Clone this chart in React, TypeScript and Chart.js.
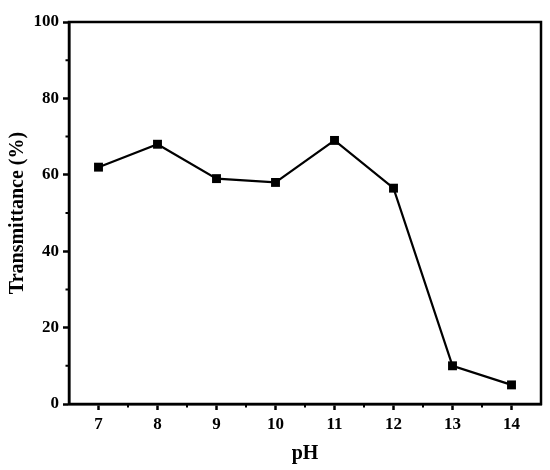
import React, { useEffect, useRef } from "react";
import { Chart, registerables } from "chart.js";

Chart.register(...registerables);

const phValues = [7, 8, 9, 10, 11, 12, 13, 14];
const transmittance = [62, 68, 59, 58, 69, 56.5, 10, 5];
const xMinorTicks = [6.5, 7.5, 8.5, 9.5, 10.5, 11.5, 12.5, 13.5, 14.5];
const yMinorTicks = [10, 30, 50, 70, 90];

const FONT = "'Liberation Serif', 'Times New Roman', serif";

const framePlugin = {
  id: "frame",
  afterDraw(chart: any) {
    const { ctx, chartArea } = chart;
    const { left, right, top, bottom } = chartArea;
    const xs = chart.scales.x;
    const ys = chart.scales.y;
    ctx.save();
    ctx.strokeStyle = "#000";
    ctx.lineWidth = 2.5;
    ctx.strokeRect(left, top, right - left, bottom - top);
    ctx.lineWidth = 2;
    ctx.beginPath();
    for (const v of xMinorTicks) {
      const px = xs.getPixelForValue(v);
      if (px > left + 2 && px < right - 2) {
        ctx.moveTo(px, bottom);
        ctx.lineTo(px, bottom + 3.5);
      }
    }
    for (const v of yMinorTicks) {
      const py = ys.getPixelForValue(v);
      ctx.moveTo(left, py);
      ctx.lineTo(left - 3.5, py);
    }
    ctx.stroke();
    ctx.restore();
  },
};

export default function App() {
  const canvasRef = useRef<HTMLCanvasElement | null>(null);

  useEffect(() => {
    if (!canvasRef.current) return;
    const chart = new Chart(canvasRef.current, {
      type: "line",
      data: {
        datasets: [
          {
            data: phValues.map((x, i) => ({ x, y: transmittance[i] })),
            borderColor: "#000",
            backgroundColor: "#000",
            borderWidth: 2.2,
            pointStyle: "rect",
            pointRadius: 6.3,
            pointBorderWidth: 0,
            tension: 0,
          },
        ],
      },
      options: {
        animation: false,
        responsive: false,
        layout: { padding: { top: 22, right: 9, left: 6, bottom: 4 } },
        plugins: { legend: { display: false }, tooltip: { enabled: false } },
        scales: {
          x: {
            type: "linear",
            min: 6.5,
            max: 14.5,
            afterBuildTicks: (scale: any) => {
              scale.ticks = phValues.map((v) => ({ value: v }));
            },
            afterFit: (scale: any) => {
              scale.height = 470 - 404 - 4;
            },
            grid: {
              display: true,
              drawOnChartArea: false,
              drawTicks: true,
              tickLength: 6,
              tickWidth: 2.5,
              tickColor: "#000",
            },
            border: { display: true, color: "#000", width: 2.5 },
            ticks: {
              color: "#000",
              padding: 4,
              maxRotation: 0,
              autoSkip: false,
              font: { family: FONT, size: 17, weight: "bold" },
            },
            title: {
              display: true,
              text: "pH",
              color: "#000",
              padding: { top: 5, bottom: 0 },
              font: { family: FONT, size: 20, weight: "bold" },
            },
          },
          y: {
            type: "linear",
            min: 0,
            max: 100,
            ticks: {
              stepSize: 20,
              color: "#000",
              padding: 4,
              font: { family: FONT, size: 17, weight: "bold" },
            },
            afterFit: (scale: any) => {
              scale.width = 69 - 6;
            },
            grid: {
              display: true,
              drawOnChartArea: false,
              drawTicks: true,
              tickLength: 6,
              tickWidth: 2.5,
              tickColor: "#000",
            },
            border: { display: true, color: "#000", width: 2.5 },
            title: {
              display: true,
              text: "Transmittance (%)",
              color: "#000",
              padding: { top: 0, bottom: 4 },
              font: { family: FONT, size: 20, weight: "bold" },
            },
          },
        },
      },
      plugins: [framePlugin],
    });
    return () => chart.destroy();
  }, []);

  return (
    <div style={{ position: "fixed", left: 0, top: 0, width: 550, height: 470, background: "#fff" }}>
      <canvas ref={canvasRef} width={550} height={470} style={{ display: "block" }} />
    </div>
  );
}
